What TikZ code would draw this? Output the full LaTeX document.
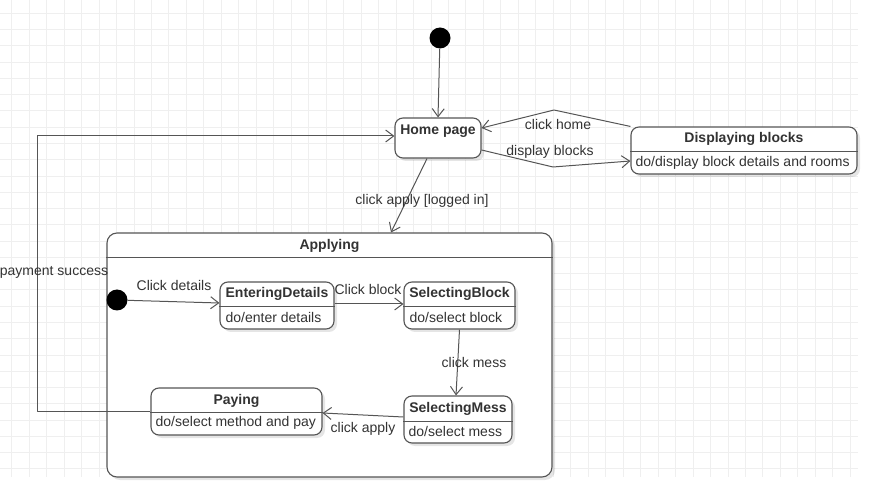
\documentclass[tikz,border=0pt]{standalone}
\usepackage{fontspec}
\setmainfont{Liberation Sans}
\usetikzlibrary{arrows.meta,shadows}
\definecolor{gridrule}{HTML}{EFEFEF}
\definecolor{umlline}{HTML}{555555}
\definecolor{umltext}{HTML}{333333}

\begin{document}
\begin{tikzpicture}[
  x=1pt,
  y=-1pt,
  line join=round,
  font=\fontsize{14}{16}\selectfont,
  grid/.style={draw=gridrule,line width=0.9pt},
  state/.style={draw=umlline,line width=1.1pt,rounded corners=8pt,fill=white,inner sep=0pt,
    drop shadow={shadow xshift=3pt,shadow yshift=-3pt,fill=black,opacity=0.10}},
  statename/.style={font=\fontsize{14}{16}\selectfont\bfseries,text=umltext,inner sep=0pt},
  doaction/.style={text=umltext,anchor=west,inner sep=0pt},
  divider/.style={draw=umlline,line width=1.1pt},
  initial/.style={circle,fill=black,minimum size=21pt,inner sep=0pt},
  trans/.style={draw=umlline,line width=1pt,-{Straight Barb[length=8pt,width=12pt]}},
  guard/.style={text=umltext,inner sep=0pt}
]
  \useasboundingbox (0,0) rectangle (879,481);

  % Background grid of the drawing canvas.
  \foreach \k in {0,...,48} {
    \draw[grid] ({11.7+17.47*\k},0) -- ({11.7+17.47*\k},477);
  }
  \foreach \k in {0,...,28} {
    \draw[grid] (0,{13.3+16.27*\k}) -- (858,{13.3+16.27*\k});
  }

  % Top level states.
  \node[initial] (start) at (440,38) {};
  \node[state,minimum width=86pt,minimum height=40pt] (home) at (438,138) {};
  \node[statename] (homeT) at ([yshift=-14pt]home.north) {Home page};

  \node[state,minimum width=226pt,minimum height=47pt] (disp) at (744,150.5) {};
  \node[statename] (dispT) at ([yshift=-12pt]disp.north) {Displaying blocks};
  \draw[divider] ([yshift=-25pt]disp.north west) -- ([yshift=-25pt]disp.north east);
  \node[doaction] (dispA) at ([xshift=5pt,yshift=-36pt]disp.north west) {do/display block details and rooms};

  % Composite state.
  \node[state,rounded corners=10pt,minimum width=445pt,minimum height=244pt] (applying) at (329.5,355) {};
  \node[statename] (applyingT) at ([yshift=-13pt]applying.north) {Applying};
  \draw[divider] ([yshift=-25pt]applying.north west) -- ([yshift=-25pt]applying.north east);

  \node[initial] (istart) at (117,300) {};

  \node[state,minimum width=114pt,minimum height=47pt] (ent) at (277,305.5) {};
  \node[statename] (entT) at ([yshift=-12pt]ent.north) {EnteringDetails};
  \draw[divider] ([yshift=-25pt]ent.north west) -- ([yshift=-25pt]ent.north east);
  \node[doaction] (entA) at ([xshift=6pt,yshift=-36pt]ent.north west) {do/enter details};

  \node[state,minimum width=111pt,minimum height=47pt] (selb) at (459.5,305.5) {};
  \node[statename] (selbT) at ([yshift=-12pt]selb.north) {SelectingBlock};
  \draw[divider] ([yshift=-25pt]selb.north west) -- ([yshift=-25pt]selb.north east);
  \node[doaction] (selbA) at ([xshift=6pt,yshift=-36pt]selb.north west) {do/select block};

  \node[state,minimum width=108pt,minimum height=47pt] (selm) at (458,419.5) {};
  \node[statename] (selmT) at ([yshift=-13pt]selm.north) {SelectingMess};
  \draw[divider] ([yshift=-26pt]selm.north west) -- ([yshift=-26pt]selm.north east);
  \node[doaction] (selmA) at ([xshift=5pt,yshift=-36pt]selm.north west) {do/select mess};

  \node[state,minimum width=171pt,minimum height=47pt] (pay) at (236.5,411.5) {};
  \node[statename] (payT) at ([yshift=-13pt]pay.north) {Paying};
  \draw[divider] ([yshift=-25pt]pay.north west) -- ([yshift=-25pt]pay.north east);
  \node[doaction] (payA) at ([xshift=5pt,yshift=-35pt]pay.north west) {do/select method and pay};

  % Bend points of the routed transitions.
  \coordinate (homeBend) at (554,110);
  \coordinate (dispBend) at (553,167);
  \coordinate (payBend) at (37,136);

  % Transitions.
  \draw[trans] (start) -- (home.north);
  \draw[trans] (disp.north west) -- (homeBend) -- ([yshift=10pt]home.east);
  \draw[trans] ([yshift=-12pt]home.east) -- (dispBend) -- ([yshift=-10.5pt]disp.west);
  \draw[trans] ([xshift=-11pt]home.south) -- ([xshift=61.5pt]applying.north);
  \draw[trans] (pay.west) -| (payBend) -- ([yshift=2pt]home.west);
  \draw[trans] (istart) -- ([yshift=2.5pt]ent.west);
  \draw[trans] ([yshift=1.5pt]ent.east) -- ([yshift=1.5pt]selb.west);
  \draw[trans] (selb.south) -- ([xshift=-2pt]selm.north);
  \draw[trans] ([yshift=2.5pt]selm.west) -- ([yshift=-1.5pt]pay.east);

  % Transition labels.
  \node[guard] (lHome) at (558,124) {click home};
  \node[guard] (lDisp) at (550,152) {display blocks};
  \node[guard] (lApply) at (422,201) {click apply [logged in]};
  \node[guard] (lPaid) at (54,272) {payment success};
  \node[guard] (lDetails) at (174,285) {Click details};
  \node[guard] (lBlock) at (368,289) {Click block};
  \node[guard] (lMess) at (474,362) {click mess};
  \node[guard] (lPay) at (363,429) {click apply};
\end{tikzpicture}
\end{document}
